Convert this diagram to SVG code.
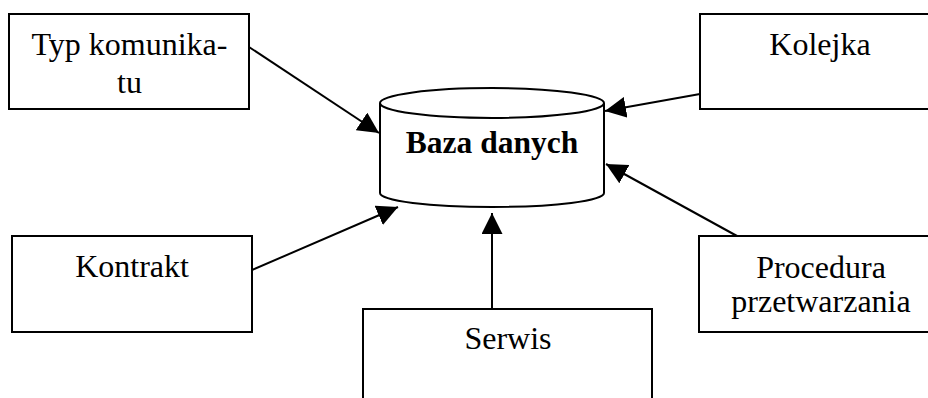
<svg xmlns="http://www.w3.org/2000/svg" width="928" height="398" viewBox="0 0 928 398">
<style>
.box{fill:#fff;stroke:#000;stroke-width:2}
.t{font-family:"Liberation Serif","Times New Roman",serif;font-size:32px;fill:#000;text-anchor:middle}
.b{font-weight:bold;font-size:31.5px}
.c{stroke:#000;stroke-width:2;fill:none;marker-end:url(#ah)}
</style>
<defs>
<marker id="ah" markerUnits="userSpaceOnUse" markerWidth="21" markerHeight="21" refX="21" refY="10.5" orient="auto" viewBox="0 0 21 21">
<path d="M0,0 L21,10.5 L0,21 z" fill="#000"/>
</marker>
</defs>
<rect width="928" height="398" fill="#fff"/>
<g id="typ">
<rect class="box" x="9" y="14" width="240" height="95"/>
<text class="t" x="129.5" y="55">Typ komunika-</text>
<text class="t" x="129.5" y="93">tu</text>
</g>
<g id="kolejka">
<rect class="box" x="700" y="14" width="240" height="95"/>
<text class="t" x="820" y="55">Kolejka</text>
</g>
<g id="kontrakt">
<rect class="box" x="12" y="236" width="240" height="96"/>
<text class="t" x="132" y="277">Kontrakt</text>
</g>
<g id="procedura">
<rect class="box" x="699" y="236" width="240" height="96"/>
<text class="t" x="821" y="278">Procedura</text>
<text class="t" x="821" y="312">przetwarzania</text>
</g>
<g id="serwis">
<rect class="box" x="363" y="309" width="289" height="100"/>
<text class="t" x="508" y="349">Serwis</text>
</g>
<g id="baza">
<path class="box" d="M380,103 L380,193 A112,14 0 0 0 604,193 L604,103"/>
<ellipse class="box" cx="492" cy="103" rx="112" ry="15"/>
<text class="t b" x="492" y="153">Baza danych</text>
</g>
<g id="connectors">
<line class="c" x1="249" y1="47" x2="379" y2="133"/>
<line class="c" x1="700" y1="94" x2="605" y2="111"/>
<line class="c" x1="737" y1="236" x2="606" y2="164"/>
<line class="c" x1="252" y1="270" x2="398" y2="207"/>
<line class="c" x1="492" y1="309" x2="492" y2="213"/>
</g>
</svg>
